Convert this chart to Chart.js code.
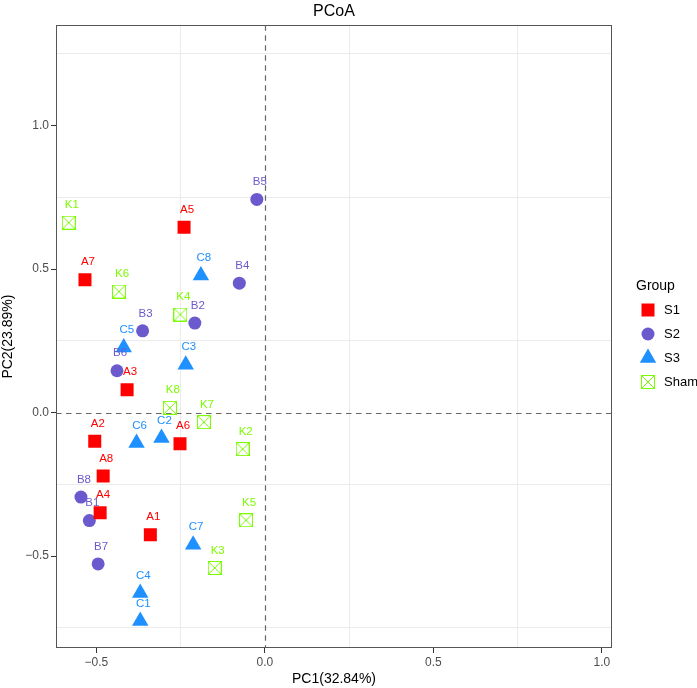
<!DOCTYPE html>
<html>
<head>
<meta charset="utf-8">
<script src="https://cdn.jsdelivr.net/npm/chart.js@4/dist/chart.umd.min.js"></script>
<style>
html,body{margin:0;padding:0;background:#ffffff;}
#wrap{width:697px;height:688px;}
</style>
</head>
<body>
<div id="wrap"><canvas id="c" width="697" height="688"></canvas></div>
<script>
// ---- data ----
const groups = ['S1', 'S2', 'S3', 'Sham'];
const groupColors = ['#FF0000', '#6A5ACD', '#1E90FF', '#7CFC00'];

const s1Labels = ['A1', 'A2', 'A3', 'A4', 'A5', 'A6', 'A7', 'A8'];
const s1X = [-0.340, -0.505, -0.409, -0.489, -0.240, -0.252, -0.534, -0.480];
const s1Y = [-0.425, -0.100, 0.080, -0.349, 0.646, -0.108, 0.463, -0.221];

const s2Labels = ['B1', 'B2', 'B3', 'B4', 'B5', 'B6', 'B7', 'B8'];
const s2X = [-0.521, -0.208, -0.363, -0.076, -0.024, -0.439, -0.495, -0.546];
const s2Y = [-0.376, 0.312, 0.285, 0.451, 0.743, 0.146, -0.527, -0.294];

const s3Labels = ['C1', 'C2', 'C3', 'C4', 'C5', 'C6', 'C7', 'C8'];
const s3X = [-0.370, -0.307, -0.235, -0.370, -0.419, -0.381, -0.213, -0.190];
const s3Y = [-0.726, -0.088, 0.167, -0.628, 0.227, -0.106, -0.460, 0.478];

const shamLabels = ['K1', 'K2', 'K3', 'K4', 'K5', 'K6', 'K7', 'K8'];
const shamX = [-0.582, -0.066, -0.149, -0.251, -0.056, -0.433, -0.181, -0.282];
const shamY = [0.662, -0.127, -0.541, 0.342, -0.375, 0.422, -0.033, 0.017];

const xTicks = [-0.5, -0.25, 0, 0.25, 0.5, 0.75, 1.0];
const xTickLabels = ['\u22120.5', '', '0.0', '', '0.5', '', '1.0'];
const yTicks = [-0.75, -0.5, -0.25, 0, 0.25, 0.5, 0.75, 1.0, 1.25];
const yTickLabels = ['', '\u22120.5', '', '0.0', '', '0.5', '', '1.0', ''];

const chartTitle = 'PCoA';
const xTitle = 'PC1(32.84%)';
const yTitle = 'PC2(23.89%)';
const legendTitle = 'Group';

// ---- helpers ----
const FONT = '"Liberation Sans", Arial, Helvetica, sans-serif';
function pts(xs, ys) { return xs.map((x, i) => ({x: x, y: ys[i]})); }
function makeBoxX(color, size) {
  const c = document.createElement('canvas');
  c.width = size; c.height = size;
  const g = c.getContext('2d');
  g.strokeStyle = color; g.lineWidth = 1;
  g.strokeRect(0.5, 0.5, size - 1, size - 1);
  g.beginPath();
  g.moveTo(0.5, 0.5); g.lineTo(size - 0.5, size - 0.5);
  g.moveTo(size - 0.5, 0.5); g.lineTo(0.5, size - 0.5);
  g.stroke();
  return c;
}
const shamStyle = makeBoxX(groupColors[3], 14);
const isLabeled = (arr, labels, v) => { const i = arr.indexOf(v); return i >= 0 && labels[i] !== ''; };

const pointLabels = [s1Labels, s2Labels, s3Labels, shamLabels];
const styles = ['rect', 'circle', 'triangle', shamStyle];
const radii = [9.2, 6.5, 9.5, 7];

const decor = {
  id: 'decor',
  beforeDatasetsDraw(chart) {
    const {ctx, chartArea: a, scales: {x, y}} = chart;
    ctx.save();
    ctx.strokeStyle = '#666666';
    ctx.lineWidth = 1.2;
    ctx.setLineDash([5.5, 4.5]);
    const x0 = Math.round(x.getPixelForValue(0)) + 0.5;
    const y0 = Math.round(y.getPixelForValue(0)) + 0.5;
    ctx.beginPath();
    ctx.moveTo(x0, a.top); ctx.lineTo(x0, a.bottom);
    ctx.moveTo(a.left, y0); ctx.lineTo(a.right, y0);
    ctx.stroke();
    ctx.restore();
  },
  afterDatasetsDraw(chart) {
    const {ctx, chartArea: a} = chart;
    ctx.save();
    // point labels
    ctx.font = '11.5px ' + FONT;
    ctx.textAlign = 'center';
    ctx.textBaseline = 'middle';
    chart.data.datasets.forEach((ds, di) => {
      const meta = chart.getDatasetMeta(di);
      ctx.fillStyle = groupColors[di];
      meta.data.forEach((el, i) => {
        ctx.fillText(pointLabels[di][i], el.x + 3, el.y - 17.5);
      });
    });
    // panel border
    ctx.strokeStyle = '#555555';
    ctx.lineWidth = 1;
    ctx.strokeRect(Math.round(a.left) + 0.5, Math.round(a.top) + 0.5,
                   Math.round(a.right - a.left) - 1, Math.round(a.bottom - a.top) - 1);
    // legend
    const lx = a.right + 24;
    const sx = a.right + 36;
    const tx = a.right + 52;
    ctx.fillStyle = '#000';
    ctx.textAlign = 'left';
    ctx.textBaseline = 'middle';
    ctx.font = '14px ' + FONT;
    ctx.fillText(legendTitle, lx, 286);
    ctx.font = '13px ' + FONT;
    groups.forEach((g, i) => {
      const cy = 310 + i * 24;
      const col = groupColors[i];
      ctx.fillStyle = col;
      if (i === 0) {
        ctx.fillRect(sx - 6.5, cy - 6.5, 13, 13);
      } else if (i === 1) {
        ctx.beginPath(); ctx.arc(sx, cy, 6.5, 0, Math.PI * 2); ctx.fill();
      } else if (i === 2) {
        const r = 9.5;
        ctx.beginPath();
        ctx.moveTo(sx, cy - r);
        ctx.lineTo(sx + r * Math.sqrt(3) / 2, cy + r / 2);
        ctx.lineTo(sx - r * Math.sqrt(3) / 2, cy + r / 2);
        ctx.closePath(); ctx.fill();
      } else {
        ctx.drawImage(shamStyle, Math.round(sx - 7), Math.round(cy - 7));
      }
      ctx.fillStyle = '#000';
      ctx.fillText(g, tx, cy);
    });
    ctx.restore();
  }
};

const datasets = [
  {label: groups[0], data: pts(s1X, s1Y)},
  {label: groups[1], data: pts(s2X, s2Y)},
  {label: groups[2], data: pts(s3X, s3Y)},
  {label: groups[3], data: pts(shamX, shamY)}
].map((d, i) => Object.assign(d, {
  pointStyle: styles[i],
  pointRadius: radii[i],
  pointHoverRadius: radii[i],
  backgroundColor: groupColors[i],
  borderColor: groupColors[i],
  borderWidth: 0
}));

new Chart(document.getElementById('c'), {
  type: 'scatter',
  data: {datasets: datasets},
  options: {
    responsive: false,
    animation: false,
    devicePixelRatio: 1,
    events: [],
    layout: {padding: {left: 0, top: 0, right: 85, bottom: 0}},
    plugins: {
      legend: {display: false},
      tooltip: {enabled: false},
      title: {
        display: true, text: chartTitle, fullSize: false,
        color: '#000', font: {family: FONT, size: 16, weight: 'normal'},
        padding: {top: 2, bottom: 4}
      }
    },
    scales: {
      x: {
        type: 'linear', min: -0.62, max: 1.03,
        afterBuildTicks: s => { s.ticks = xTicks.map(v => ({value: v})); },
        afterFit: s => { s.height = 40; },
        ticks: {
          autoSkip: false, maxRotation: 0, padding: 2,
          color: '#4d4d4d', font: {family: FONT, size: 12},
          callback: (v, i) => xTickLabels[xTicks.indexOf(v)]
        },
        grid: {
          lineWidth: 1, tickLength: 5,
          color: c => (c.tick && isLabeled(xTicks, xTickLabels, c.tick.value)) ? 'rgba(0,0,0,0)' : '#ebebeb',
          tickColor: c => (c.tick && isLabeled(xTicks, xTickLabels, c.tick.value)) ? '#333333' : 'rgba(0,0,0,0)'
        },
        border: {display: false},
        title: {display: true, text: xTitle, color: '#000', font: {family: FONT, size: 14}, padding: {top: 0, bottom: 0}}
      },
      y: {
        type: 'linear', min: -0.82, max: 1.35,
        afterBuildTicks: s => { s.ticks = yTicks.map(v => ({value: v})); },
        afterFit: s => { s.width = 56; },
        ticks: {
          autoSkip: false, padding: 2,
          color: '#4d4d4d', font: {family: FONT, size: 12},
          callback: (v, i) => yTickLabels[yTicks.indexOf(v)]
        },
        grid: {
          lineWidth: 1, tickLength: 5,
          color: c => (c.tick && isLabeled(yTicks, yTickLabels, c.tick.value)) ? 'rgba(0,0,0,0)' : '#ebebeb',
          tickColor: c => (c.tick && isLabeled(yTicks, yTickLabels, c.tick.value)) ? '#333333' : 'rgba(0,0,0,0)'
        },
        border: {display: false},
        title: {display: true, text: yTitle, color: '#000', font: {family: FONT, size: 14}, padding: {top: 0, bottom: 0}}
      }
    }
  },
  plugins: [decor]
});
</script>
</body>
</html>
